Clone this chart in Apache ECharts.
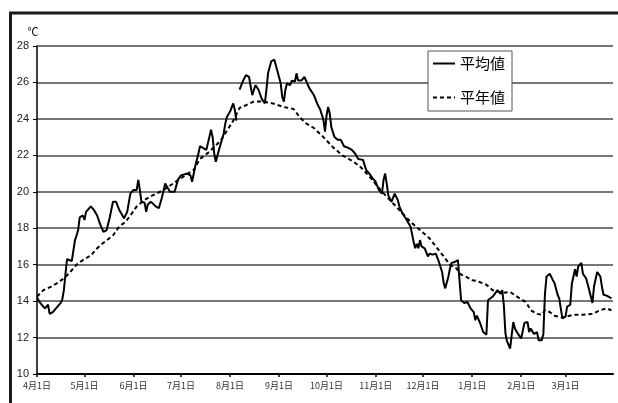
<!DOCTYPE html>
<html>
<head>
<meta charset="utf-8">
<script src="https://cdn.jsdelivr.net/npm/echarts@6/dist/echarts.min.js"></script>
<style>
  html, body { margin: 0; padding: 0; background: #fff; }
  #chart { width: 618px; height: 403px; }
</style>
</head>
<body>
<div id="chart"></div>
<script>
// Day index counted from 4月1日 (0) to 3月31日 (364)
const tickDays = [0, 30, 61, 91, 122, 153, 183, 214, 244, 275, 306, 334];
const tickLabels = ['4月1日', '5月1日', '6月1日', '7月1日', '8月1日', '9月1日',
  '10月1日', '11月1日', '12月1日', '1月1日', '2月1日', '3月1日'];

// 平均値 (daily mean), null marks missing days
const avgDays = [0, 2, 5, 7, 8, 10, 12, 15, 16, 17, 18, 19, 22, 23, 24, 25, 26, 27, 29, 30,
  31, 34, 36, 38, 40, 42, 44, 46, 48, 50, 52, 55, 57, 59, 61, 63, 64, 65, 66, 68,
  69, 70, 72, 75, 77, 79, 81, 82, 84, 87, 89, 91, 92, 95, 97, 98, 100, 102, 103, 107,
  110, 111, 112, 113, 115, 118, 119, 120, 121, 122, 124, 125, 126, 127, 128, 130, 132, 134, 136, 137,
  138, 140, 142, 144, 145, 146, 148, 150, 152, 153, 154, 155, 156, 157, 158, 160, 161, 163, 164, 165,
  167, 169, 170, 172, 175, 177, 179, 181, 182, 183, 184, 185, 186, 188, 190, 192, 194, 197, 199, 201,
  203, 206, 208, 210, 212, 214, 216, 218, 219, 220, 221, 222, 223, 224, 226, 227, 228, 229, 231, 233,
  236, 237, 238, 239, 240, 241, 242, 243, 245, 247, 248, 250, 252, 254, 256, 257, 258, 259, 260, 261,
  262, 264, 266, 268, 270, 272, 274, 276, 277, 278, 280, 282, 284, 285, 288, 291, 292, 293, 294, 295,
  296, 297, 299, 300, 301, 302, 304, 306, 308, 310, 311, 312, 314, 316, 317, 319, 320, 321, 322, 324,
  326, 327, 329, 330, 331, 332, 334, 335, 337, 338, 340, 341, 342, 344, 345, 347, 349, 351, 352, 354,
  356, 357, 358, 360, 361, 363];
const avgTemps = [14.2, 13.9, 13.6, 13.8, 13.3, 13.4, 13.6, 13.9, 14.1, 14.6, 15.5, 16.3, 16.2, 16.3, 17.35, 17.6, 17.9, 18.6, 18.7, 18.45,
  18.9, 19.2, 19.0, 18.7, 18.2, 17.8, 17.9, 18.6, 19.45, 19.45, 19.0, 18.55, 18.9, 19.9, 20.1, 20.1, 20.65, 20.1, 19.45, 19.4,
  18.9, 19.3, 19.45, 19.2, 19.1, 19.7, 20.45, 20.3, 20.0, 20.0, 20.65, 20.9, 20.85, 21.0, 20.9, 20.55, 21.4, 22.1, 22.5, 22.3,
  23.4, 23.0, 22.1, 21.65, 22.3, 23.2, 23.75, 24.1, 24.0, 24.4, 24.85, 24.5, 23.9, null, 25.6, 26.05, 26.4, 26.3, 25.3, 25.2,
  25.85, 25.6, 25.1, 24.85, 25.6, 26.5, 27.15, 27.25, 26.6, 26.7, 25.95, 25.2, 24.95, 25.6, 25.95, 25.85, 26.1, 26.05, 26.5, 26.1,
  26.1, 26.3, 26.2, 25.7, 25.3, 24.85, 24.5, 23.95, 23.3, 24.2, 24.65, 24.3, 23.55, 23.0, 22.85, 22.85, 22.5, 22.4, 22.3, 22.1,
  21.8, 21.75, 21.2, 21.0, 20.75, 20.55, 20.1, 19.9, 20.65, 21.0, 20.45, 19.8, 19.7, 19.45, 19.9, 20.0, 19.55, 19.2, 18.8, 18.55,
  18.1, 17.7, 17.25, 16.9, 17.15, 16.9, 17.35, 17.0, 16.9, 16.45, 16.6, 16.55, 16.6, 16.15, 15.6, 15.0, 14.7, 14.8, 15.35, 15.8,
  16.1, 16.15, 16.25, 14.05, 13.9, 13.95, 13.6, 13.4, 12.95, 13.2, 12.8, 12.3, 12.15, 14.05, 14.25, 14.6, 14.7, 14.4, 14.6, 13.8,
  12.25, 11.8, 11.4, 12.15, 12.85, 12.5, 12.2, 11.95, 12.8, 12.85, 12.3, 12.5, 12.2, 12.3, 11.85, 11.85, 12.2, 14.4, 15.35, 15.5,
  15.15, 15.0, 14.35, 14.15, 13.6, 13.05, 13.15, 13.7, 13.8, 14.95, 15.75, 15.35, 15.9, 16.1, 15.5, 15.25, 14.6, 13.9, 14.8, 15.6,
  15.35, 14.8, 14.35, 14.3, 14.25, 14.15];

// 平年値 (climatological normal)
const normDays = [0, 4, 9, 13, 17, 20, 25, 29, 34, 38, 42, 48, 52, 56, 59, 63, 68, 73, 80, 86,
  92, 99, 103, 109, 116, 124, 128, 132, 137, 143, 149, 156, 162, 166, 170, 175, 181, 187, 193, 200,
  204, 210, 217, 223, 229, 236, 242, 248, 252, 257, 261, 265, 268, 271, 275, 278, 284, 288, 294, 299,
  305, 309, 312, 316, 319, 321, 324, 327, 332, 339, 345, 351, 356, 360, 363];
const normTemps = [14.25, 14.6, 14.8, 15.0, 15.25, 15.5, 16.0, 16.25, 16.5, 16.9, 17.2, 17.6, 18.1, 18.35, 18.7, 19.2, 19.55, 19.8, 20.1, 20.45,
  20.8, 21.2, 21.8, 22.2, 22.8, 23.9, 24.6, 24.75, 24.95, 24.95, 24.85, 24.65, 24.55, 24.1, 23.75, 23.5, 23.0, 22.45, 22.0, 21.65,
  21.4, 20.85, 20.1, 19.55, 19.0, 18.35, 17.9, 17.45, 17.0, 16.45, 16.0, 15.8, 15.45, 15.35, 15.15, 15.1, 14.9, 14.6, 14.45, 14.5,
  14.15, 13.95, 13.5, 13.3, 13.25, 13.5, 13.4, 13.2, 13.1, 13.25, 13.25, 13.3, 13.5, 13.6, 13.5];

const pairs = (xs, ys) => xs.map((d, i) => [d, ys[i]]);

const chart = echarts.init(document.getElementById('chart'), null, { renderer: 'canvas' });
const labelFont = '"Noto Sans CJK JP", "Liberation Sans", sans-serif';

chart.setOption({
  animation: false,
  backgroundColor: '#fff',
  grid: { left: 37, right: 5, top: 46, bottom: 29 },
  graphic: [{
    type: 'rect',
    shape: { x: 10.5, y: 13, width: 700, height: 500 },
    style: { fill: null, stroke: '#1a1a1a', lineWidth: 3 },
    silent: true
  }],
  legend: {
    orient: 'vertical',
    left: 428,
    top: 51,
    padding: [5, 7, 6, 4],
    itemWidth: 22,
    itemHeight: 14,
    itemGap: 19,
    backgroundColor: '#fff',
    borderColor: '#555',
    borderWidth: 1,
    borderRadius: 0,
    itemStyle: { opacity: 0, borderWidth: 0 },
    lineStyle: { width: 2 },
    textStyle: { fontSize: 15, color: '#000', fontFamily: labelFont },
    data: ['平均値', '平年値']
  },
  xAxis: {
    type: 'value',
    min: 0,
    max: 364,
    splitLine: { show: false },
    axisLine: { show: true, lineStyle: { color: '#000', width: 2 } },
    axisTick: { show: true, length: 3, customValues: tickDays, lineStyle: { color: '#000', width: 1.5 } },
    axisLabel: {
      customValues: tickDays,
      margin: 7,
      fontSize: 9,
      color: '#333',
      fontFamily: labelFont,
      formatter: v => tickLabels[tickDays.indexOf(v)]
    }
  },
  yAxis: {
    type: 'value',
    min: 10,
    max: 28,
    interval: 2,
    name: '℃',
    nameLocation: 'end',
    nameGap: 9,
    nameTextStyle: { fontSize: 11, color: '#000', fontFamily: labelFont, padding: [0, 8, 0, 0] },
    axisLine: { show: true, lineStyle: { color: '#000', width: 1.5 } },
    axisTick: { show: true, length: 4, lineStyle: { color: '#000', width: 1 } },
    axisLabel: { margin: 8, fontSize: 11, color: '#222', fontFamily: '"Liberation Sans", Arial, sans-serif' },
    splitLine: { show: true, lineStyle: { color: '#4a4a4a', width: 1.5 } }
  },
  series: [
    {
      name: '平均値',
      type: 'line',
      data: pairs(avgDays, avgTemps),
      showSymbol: false,
      symbol: 'none',
      connectNulls: false,
      lineStyle: { color: '#000', width: 2 },
      itemStyle: { color: '#000' },
      z: 3
    },
    {
      name: '平年値',
      type: 'line',
      data: pairs(normDays, normTemps),
      showSymbol: false,
      symbol: 'none',
      lineStyle: { color: '#000', width: 2, type: [4, 3] },
      itemStyle: { color: '#000' },
      z: 2
    }
  ]
});
</script>
</body>
</html>
